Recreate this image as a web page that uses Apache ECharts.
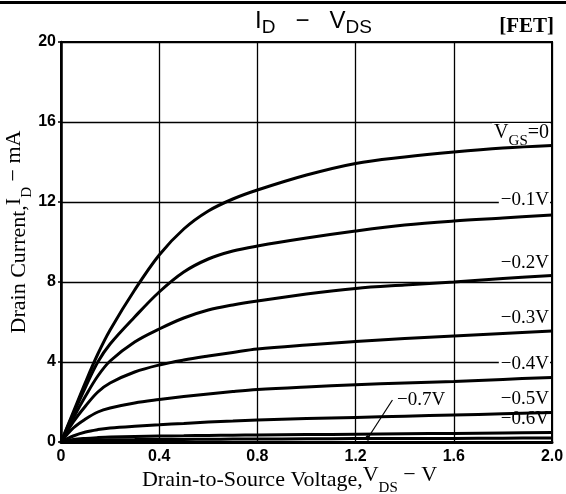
<!DOCTYPE html>
<html>
<head>
<meta charset="utf-8">
<script src="https://cdn.jsdelivr.net/npm/echarts@6/dist/echarts.min.js"></script>
<style>
  html, body { margin: 0; padding: 0; background: #fff; }
  #chart { width: 566px; height: 494px; }
</style>
</head>
<body>
<div id="chart"></div>
<script>
// drain-source voltage samples (V)
var vds = [0, 0.05, 0.1, 0.15, 0.2, 0.3, 0.4, 0.5, 0.6, 0.7, 0.8, 1.0, 1.2, 1.4, 1.6, 1.8, 2.0];

// drain current (mA) per gate voltage
var idVgs0  = [0, 1.5, 3.0, 4.4, 5.6, 7.6, 9.35, 10.65, 11.55, 12.15, 12.6, 13.35, 13.93, 14.25, 14.5, 14.7, 14.83];
var idVgs01 = [0, 1.4, 2.75, 4.0, 4.9, 6.25, 7.5, 8.5, 9.15, 9.55, 9.8, 10.2, 10.55, 10.85, 11.05, 11.2, 11.35];
var idVgs02 = [0, 1.2, 2.3, 3.3, 4.05, 5.0, 5.65, 6.2, 6.6, 6.85, 7.05, 7.4, 7.68, 7.85, 8.0, 8.17, 8.33];
var idVgs03 = [0, 1.0, 1.8, 2.5, 2.95, 3.5, 3.85, 4.1, 4.3, 4.48, 4.65, 4.85, 5.02, 5.17, 5.3, 5.43, 5.55];
var idVgs04 = [0, 0.7, 1.15, 1.5, 1.7, 1.95, 2.12, 2.27, 2.4, 2.52, 2.62, 2.75, 2.86, 2.95, 3.03, 3.13, 3.23];
var idVgs05 = [0, 0.3, 0.5, 0.62, 0.7, 0.79, 0.86, 0.93, 1.0, 1.05, 1.1, 1.17, 1.23, 1.29, 1.35, 1.41, 1.47];
var idVgs06 = [0, 0.12, 0.18, 0.22, 0.25, 0.28, 0.3, 0.31, 0.33, 0.34, 0.35, 0.37, 0.39, 0.41, 0.43, 0.45, 0.47];
var idVgs07 = [0, 0.05, 0.08, 0.1, 0.11, 0.12, 0.13, 0.13, 0.14, 0.145, 0.15, 0.16, 0.17, 0.17, 0.18, 0.19, 0.2];

var vgsNames = ['0', '-0.1', '-0.2', '-0.3', '-0.4', '-0.5', '-0.6', '-0.7'];
var curveText = ['{v|V}{s|GS}{v|=0}', '−0.1V', '−0.2V', '−0.3V', '−0.4V', '−0.5V', '−0.6V', '−0.7V'];

var xTickLabels = ['0', '0.4', '0.8', '1.2', '1.6', '2.0'];
var yTickLabels = ['0', '4', '8', '12', '16', '20'];

var curves = [idVgs0, idVgs01, idVgs02, idVgs03, idVgs04, idVgs05, idVgs06, idVgs07];

// where each curve's tag sits (data coords); the last one is left-anchored
var tagAt = [[2.0, 15.3], [2.0, 12.1], [2.0, 8.95], [2.0, 6.2], [2.0, 3.9], [2.0, 2.15], [2.0, 1.15], [1.352, 2.1]];

var serif = '"Liberation Serif", "DejaVu Serif", serif';
var sans = '"Liberation Sans", Arial, sans-serif';

var chart = echarts.init(document.getElementById('chart'));

var series = curves.map(function (ys, i) {
  var last = i === curves.length - 1;
  var plain = last || i === 6;
  var s = {
    name: vgsNames[i],
    type: 'line',
    smooth: 0.35,
    symbol: 'none',
    z: 3,
    lineStyle: { color: '#000', width: 3 },
    data: vds.map(function (x, j) { return [x, ys[j]]; }),
    markPoint: {
      symbol: 'circle',
      symbolSize: 0,
      silent: true,
      z: 2,
      data: [{ coord: tagAt[i] }],
      label: {
        show: true,
        position: last ? 'right' : 'left',
        distance: 2,
        formatter: curveText[i],
        color: '#000',
        fontFamily: serif,
        fontSize: 19,
        lineHeight: 18,
        backgroundColor: plain ? 'transparent' : '#fff',
        padding: [0, 1, 0, 2],
        rich: {
          v: { fontFamily: serif, fontSize: 20, color: '#000', verticalAlign: 'top', lineHeight: 22 },
          s: { fontFamily: serif, fontSize: 15, color: '#000', verticalAlign: 'bottom', lineHeight: 26 }
        }
      }
    }
  };
  if (last) {
    s.markLine = {
      silent: true,
      symbol: ['circle', 'none'],
      symbolSize: 5,
      label: { show: false },
      lineStyle: { color: '#000', width: 1.2, type: 'solid' },
      data: [[{ coord: [1.25, 0.2] }, { coord: [1.35, 2.1] }]]
    };
  }
  return s;
});

chart.setOption({
  animation: false,
  backgroundColor: '#fff',
  title: {
    text: '{m|I}{s|D}{m|   −   V}{s|DS}',
    left: 250,
    top: 4,
    textStyle: {
      fontWeight: 'normal',
      rich: {
        m: { fontFamily: sans, fontWeight: 'normal', fontSize: 24, color: '#000', verticalAlign: 'top', lineHeight: 26 },
        s: { fontFamily: sans, fontWeight: 'normal', fontSize: 19, color: '#000', verticalAlign: 'bottom', lineHeight: 28 }
      }
    }
  },
  graphic: [
    { type: 'rect', left: 0, top: 1, shape: { width: 566, height: 3 }, style: { fill: '#000' } },
    {
      type: 'text', right: 12, top: 16,
      style: { text: '[FET]', font: 'bold 21px ' + serif, fill: '#000' }
    }
  ],
  grid: {
    left: 61, right: 14, top: 42, bottom: 52,
    containLabel: false,
    outerBoundsMode: 'none',
    show: true, borderColor: '#000', borderWidth: 2, backgroundColor: 'transparent'
  },
  xAxis: {
    type: 'value',
    min: 0, max: 2, interval: 0.4,
    name: 'Drain-to-Source Voltage,{v|V}{s|DS}{v| − V}',
    nameLocation: 'middle',
    nameMoveOverlap: false,
    nameGap: 22,
    nameTextStyle: {
      fontFamily: serif, fontSize: 22, color: '#000',
      padding: [0, 34, 0, 0],
      rich: {
        v: { fontFamily: serif, fontSize: 22, color: '#000', verticalAlign: 'top', lineHeight: 24 },
        s: { fontFamily: serif, fontSize: 15, color: '#000', verticalAlign: 'bottom', lineHeight: 32 }
      }
    },
    axisLine: { show: true, lineStyle: { color: '#000', width: 3 } },
    axisTick: { show: false },
    axisLabel: {
      color: '#000', fontFamily: sans, fontWeight: 'bold', fontSize: 16, margin: 7,
      formatter: function (v) { return xTickLabels[Math.round(v / 0.4)]; }
    },
    splitLine: { show: true, lineStyle: { color: '#000', width: 1.3 } }
  },
  yAxis: {
    type: 'value',
    min: 0, max: 20, interval: 4,
    name: 'Drain Current,{v|I}{s|D}{v| − mA}',
    nameLocation: 'middle',
    nameMoveOverlap: false,
    nameGap: 26,
    nameTextStyle: {
      fontFamily: serif, fontSize: 22, color: '#000',
      padding: [0, 0, 0, 20],
      rich: {
        v: { fontFamily: serif, fontSize: 22, color: '#000', verticalAlign: 'top', lineHeight: 24 },
        s: { fontFamily: serif, fontSize: 15, color: '#000', verticalAlign: 'bottom', lineHeight: 32 }
      }
    },
    axisLine: { show: true, lineStyle: { color: '#000', width: 2.5 } },
    axisTick: { show: true, length: 3, lineStyle: { color: '#000', width: 1.5 } },
    axisLabel: {
      color: '#000', fontFamily: sans, fontWeight: 'bold', fontSize: 16, margin: 5,
      formatter: function (v) { return yTickLabels[Math.round(v / 4)]; }
    },
    splitLine: { show: true, lineStyle: { color: '#000', width: 1.3 } }
  },
  series: series
});
</script>
</body>
</html>
